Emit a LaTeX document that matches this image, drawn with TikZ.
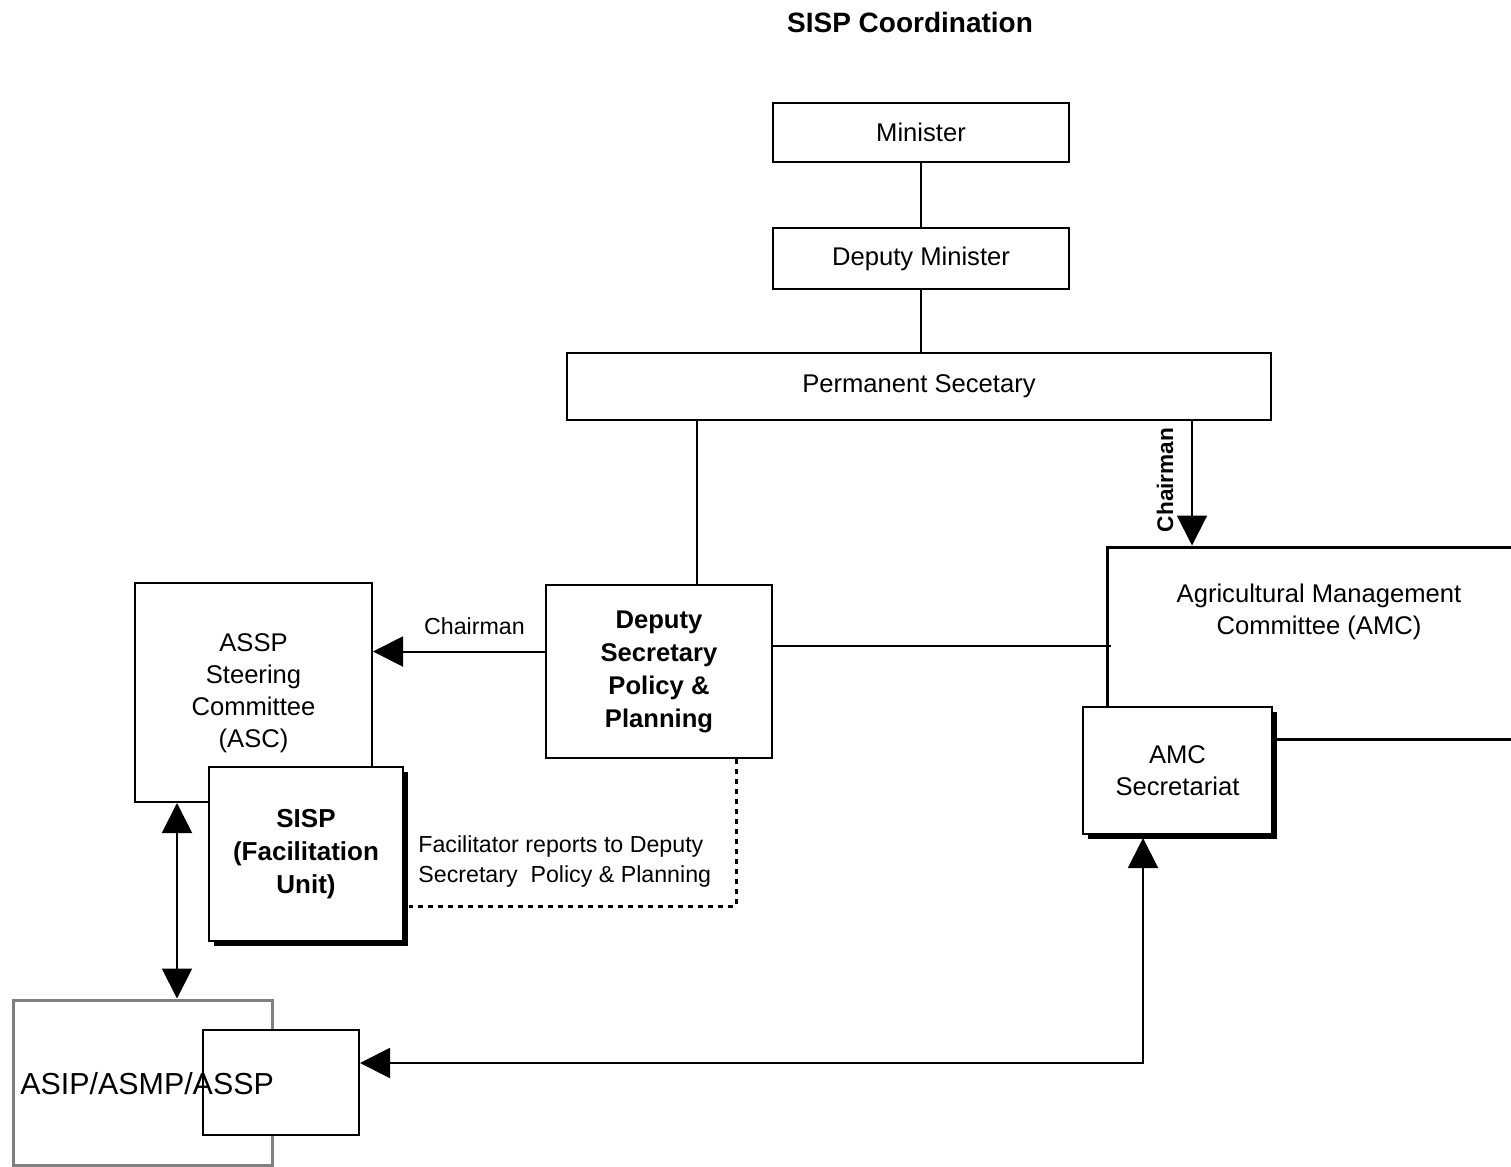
\documentclass[tikz,border=0pt]{standalone}
\usepackage{fontspec}
\setmainfont{Liberation Sans}
\usetikzlibrary{arrows.meta,shadows}
\tikzset{
  box/.style={draw,line width=1pt,fill=white,inner sep=0pt,align=center,
    font=\fontsize{12.8}{16}\selectfont},
  shadowbox/.style={box,drop shadow={shadow xshift=2.5pt,shadow yshift=-2.5pt,fill=black,opacity=1}},
  lbl/.style={inner sep=0pt,align=left,font=\fontsize{11.6}{15}\selectfont},
  link/.style={line width=1pt},
  arr/.style={link,-{Triangle[length=15pt,width=15pt]}},
  arrboth/.style={link,{Triangle[length=15pt,width=15pt]}-{Triangle[length=15pt,width=15pt]}},
  dotline/.style={line width=1.5pt,dash pattern=on 2.5pt off 2.5pt}
}
\begin{document}
\begin{tikzpicture}[x=0.5pt,y=-0.5pt]
    \useasboundingbox (0,0) rectangle (1511,1167);
    % title
    \node (title) [font=\fontsize{14}{16}\selectfont\bfseries] at (910,22) {SISP Coordination};
    % ministry
    \node (min) [box,minimum width=148pt,minimum height=29.5pt] at (921,132.5) {Minister};
    \node (depmin) [box,minimum width=148pt,minimum height=30.5pt] at (921,258.5) {Deputy Minister};
    \node (permsec) [box,minimum width=352pt,minimum height=33.5pt] at (919,386.5) {Permanent Secetary};
    \node (depsec) [box,minimum width=113pt,minimum height=86.5pt,font=\fontsize{12.8}{16.5}\selectfont\bfseries] at (659,671.5)
        {Deputy\\Secretary\\Policy \&\\Planning};
    % committees
    \node (asc) [box,minimum width=118.5pt,minimum height=109.5pt,text depth=2pt] at (253.5,692.5)
        {ASSP\\Steering\\Committee\\(ASC)};
    \node (sisp) [shadowbox,minimum width=97pt,minimum height=87pt,font=\fontsize{13}{16.5}\selectfont\bfseries] at (306,854)
        {SISP\\(Facilitation\\Unit)};
    \node (amc) [draw,line width=1.5pt,inner sep=0pt,minimum width=226.5pt,minimum height=96pt] at (1333.5,643) {};
    \node (amctext) [box,draw=none,fill=none] at (1319,612) {Agricultural Management\\Committee (AMC)};
    \node (sec) [shadowbox,minimum width=94.5pt,minimum height=63.5pt] at (1177.5,770.5) {AMC\\Secretariat};
    % programmes
    \node (asip) [draw=gray,line width=1.5pt,inner sep=0pt,minimum width=129.5pt,minimum height=82.5pt] at (142.5,1082.5) {};
    \node (asipin) [box,minimum width=78pt,minimum height=52.5pt] at (281,1082.5) {};
    \node (asiptext) [inner sep=0pt,anchor=west,font=\fontsize{15.2}{18}\selectfont] at (20,1084) {ASIP/ASMP/ASSP};
    % connectors
    \draw[link] (min) -- (depmin);
    \draw[link] (depmin.south) -- (depmin.south |- permsec.north);
    \draw[link] ([xshift=19pt]depsec.north) -- ([xshift=19pt]depsec.north |- permsec.south);
    \draw[arr] (permsec.south -| 1192,0) -- (amc.north -| 1192,0);
    \node (chair1) [rotate=90,inner sep=0pt,font=\fontsize{11.3}{13}\selectfont\bfseries] at (1165,480) {Chairman};
    \draw[arr] ([yshift=10pt]depsec.west) -- ([yshift=10pt]depsec.west -| asc.east)
        node (chair2) [lbl,pos=0.41,above=8pt] {Chairman};
    \draw[link] ([yshift=13pt]depsec.east) -- ([yshift=13pt,xshift=2.5pt]depsec.east -| amc.west);
    \draw[dotline] ([xshift=38.5pt]depsec.south) |- ([yshift=-26pt,xshift=2.5pt]sisp.east);
    \node (facil) [lbl,anchor=west] at (418,861) {Facilitator reports to Deputy\\Secretary~~Policy \& Planning};
    \draw[arrboth] ([xshift=-38.25pt]asc.south) -- ([xshift=-38.25pt]asc.south |- asip.north);
    \draw[arrboth] ([yshift=9.75pt]asipin.east) -| ([xshift=-17.25pt,yshift=-1.5pt]sec.south);
\end{tikzpicture}
\end{document}
